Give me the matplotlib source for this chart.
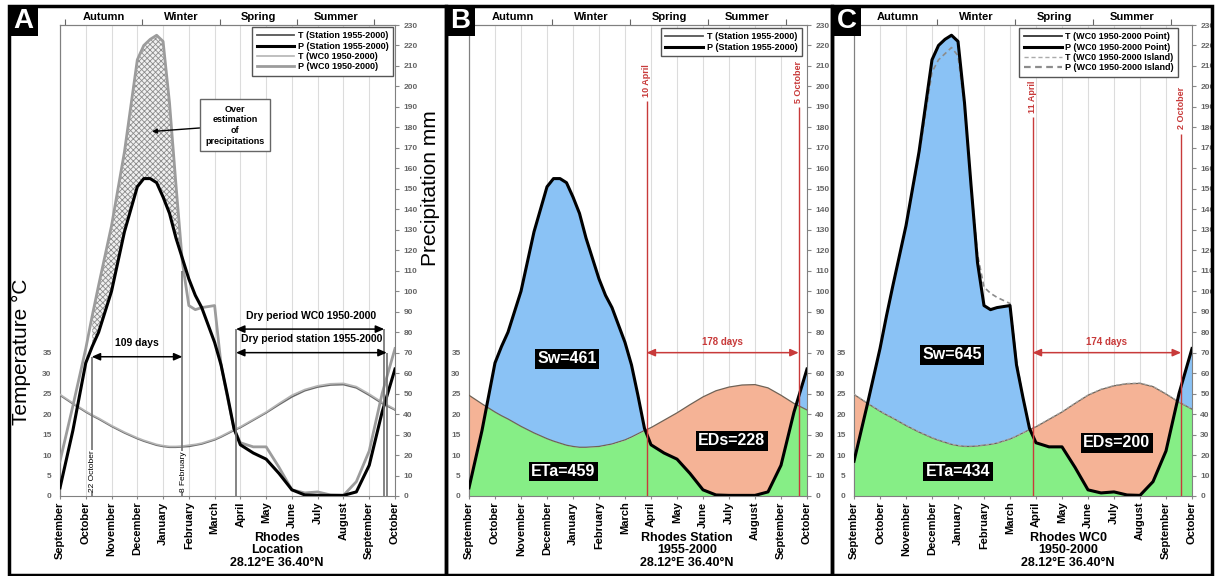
import numpy as np
import matplotlib
matplotlib.use('Agg')
import matplotlib.pyplot as plt
from matplotlib.lines import Line2D
from matplotlib.patches import Rectangle

plt.rcParams['font.family'] = ['Liberation Sans', 'DejaVu Sans']
plt.rcParams['hatch.linewidth'] = 0.6

W, H = 1215, 576

# ---------------- data (month position: 0 = September ... 13 = October) -------------
months = ['September', 'October', 'November', 'December', 'January', 'February',
          'March', 'April', 'May', 'June', 'July', 'August', 'September', 'October']
seasons = ['Autumn', 'Winter', 'Spring', 'Summer']
season_edges = [0.2, 3.2, 6.2, 9.2, 12.2]
season_mid = [1.7, 4.7, 7.7, 10.7]

mpos = np.array([0, 0.5, 1, 1.25, 1.5, 2, 2.5, 3, 3.25, 3.5, 3.75, 4, 4.25, 4.5, 4.75,
                 5, 5.25, 5.5, 6, 6.25, 6.5, 6.75, 7, 7.5, 8, 8.5, 9, 9.5, 10, 10.5,
                 11, 11.5, 12, 12.5, 13])

# temperature degC
t_station = [24.6, 22.5, 20.5, 19.6, 18.8, 17.0, 15.4, 14.0, 13.4, 12.9, 12.4, 12.1, 11.9,
             11.9, 12.0, 12.1, 12.4, 12.7, 13.7, 14.4, 15.2, 16.0, 16.7, 18.5, 20.3, 22.3,
             24.2, 25.7, 26.6, 27.1, 27.2, 26.4, 24.6, 22.6, 21.0]
t_wc0 = [24.8, 22.7, 20.7, 19.8, 19.0, 17.2, 15.6, 14.2, 13.6, 13.1, 12.6, 12.3, 12.1,
         12.1, 12.2, 12.4, 12.6, 12.9, 13.9, 14.6, 15.4, 16.2, 16.9, 18.7, 20.5, 22.6,
         24.6, 26.0, 26.9, 27.4, 27.5, 26.7, 24.9, 22.9, 21.2]
t_island = [24.9, 22.8, 20.8, 19.9, 19.1, 17.3, 15.7, 14.3, 13.7, 13.2, 12.7, 12.4, 12.2,
            12.2, 12.3, 12.5, 12.7, 13.0, 14.0, 14.7, 15.5, 16.3, 17.0, 18.8, 20.6, 22.7,
            24.7, 26.1, 27.0, 27.5, 27.6, 26.8, 25.0, 23.0, 21.3]

# precipitation mm
p_station = [4, 32, 65, 73, 80, 100, 129, 151, 155, 155, 153, 146, 138, 126, 116,
             106, 98, 92, 75, 64, 49, 33, 25, 21, 18, 11, 3, 0.5, 0.3, 0.3,
             0.3, 2, 15, 41, 62]
p_wc0 = [17, 44, 72, 88, 103, 132, 168, 213, 220, 223, 225, 222, 192, 152, 114,
         93, 91, 92, 93, 64, 48, 33, 26, 24, 24, 14, 3, 1.5, 2, 0.5,
         0.3, 7, 22, 50, 72]
p_island = [17, 44, 72, 88, 103, 132, 166, 207, 213, 216, 219, 215, 190, 152, 118,
            102, 99, 97, 94, 66, 48, 33, 26, 24, 24, 14, 3, 1.5, 2, 0.5,
            0.3, 7, 22, 50, 72]

# key dates as month positions
d_22oct, d_8feb = 1.23, 4.75
d_10apr, d_5oct = 6.83, 12.68
d_11apr, d_2oct = 6.87, 12.58

GREEN = '#86ee86'
BLUE = '#8ac2f5'
ORANGE = '#f5b396'
RED = '#c83a3a'


def fx(x):
    return x / W


def fy(y):
    return 1 - y / H


fig = plt.figure(figsize=(W / 100, H / 100), dpi=100)


def base_axes(x0, x1):
    ax = fig.add_axes([fx(x0), fy(496), (x1 - x0) / W, (496 - 25) / H])
    ax.set_xlim(0, 13)
    ax.set_ylim(0, 230)
    ax.set_xticks(range(14), labels=months, rotation=90, fontweight='bold', fontsize=8)
    ax.tick_params(axis='x', length=2, pad=2, color='#888888')
    ax.yaxis.tick_right()
    ax.set_yticks(range(0, 231, 10))
    ax.tick_params(axis='y', length=3, pad=3, labelsize=6, labelcolor='#666666', color='#888888')
    for lab in ax.get_yticklabels():
        lab.set_fontweight('bold')
    ax.grid(axis='x', color='#dcdcdc', lw=0.8)
    ax.set_axisbelow(True)
    for s in ax.spines.values():
        s.set_color('#808080')
    sec = ax.secondary_yaxis('left', functions=(lambda p: p / 2, lambda t: t * 2))
    sec.set_yticks(range(0, 36, 5))
    sec.tick_params(length=0, pad=6, labelsize=6, labelcolor='#666666')
    for lab in sec.get_yticklabels():
        lab.set_fontweight('bold')
    sec.spines['left'].set_color('#808080')
    top = ax.secondary_xaxis('top')
    top.set_xticks(season_edges, labels=[''] * len(season_edges))
    top.set_xticks(season_mid, labels=seasons, minor=True, fontweight='bold', fontsize=8)
    top.tick_params(which='major', length=4, color='#666666')
    top.tick_params(which='minor', length=0, pad=2)
    top.spines['top'].set_color('#808080')
    return ax


def harrow(ax, x0, x1, y, color):
    ax.annotate('', xy=(x1, y), xytext=(x0, y),
                arrowprops=dict(arrowstyle='<|-|>,head_length=0.5,head_width=0.22',
                                color=color, lw=1.1, shrinkA=0, shrinkB=0,
                                mutation_scale=10), zorder=6)


def water_fills(ax, p, t2):
    # green under T, blue where P above T, orange where P below T (covers green above P)
    p = np.array(p)
    wet = p >= t2
    ax.fill_between(mpos, 0, t2, color=GREEN, lw=0, zorder=1)
    ax.fill_between(mpos, t2, p, where=wet, interpolate=True, color=BLUE, lw=0, zorder=1)
    ax.fill_between(mpos, p, t2, where=~wet, interpolate=True, color=ORANGE, lw=0, zorder=1)


def value_box(ax, x, y, s):
    ax.text(x, y, s, ha='center', va='center', color='white', fontsize=11.5,
            fontweight='bold', zorder=7,
            bbox=dict(boxstyle='square,pad=0.15', fc='black', ec='none'))


legend_kw = dict(loc='upper right', prop={'weight': 'bold', 'size': 6.5},
                 frameon=True, fancybox=False, edgecolor='#555555', framealpha=1,
                 handlelength=4.2, borderaxespad=0, labelspacing=0.15, borderpad=0.5,
                 handletextpad=0.4)

t2_station = np.array(t_station) * 2
t2_wc0 = np.array(t_wc0) * 2
t2_island = np.array(t_island) * 2
mask_over = (mpos >= 1.25) & (mpos <= d_8feb)

# ---------------- Panel A ----------------
axA = base_axes(60, 395)
axA.fill_between(mpos, p_station, p_wc0, where=mask_over, facecolor='#f0f0f0',
                 hatch='xxxxxx', edgecolor='#8c8c8c', lw=0, zorder=2)
axA.plot(mpos, t2_station, color='#6a6a6a', lw=1.2, zorder=3)
axA.plot(mpos, t2_wc0, color='#b4b4b4', lw=1.2, zorder=3)
axA.plot(mpos, p_wc0, color='#9c9c9c', lw=2, zorder=3)
axA.plot(mpos, p_station, color='black', lw=2.2, zorder=4)

axA.vlines([d_22oct], 0, 68, color='#707070', lw=1.2, zorder=5)
axA.vlines([d_8feb], 0, 110, color='#707070', lw=1.2, zorder=5)
axA.vlines([d_10apr], 0, 81.5, color='#707070', lw=1.2, zorder=5)
axA.vlines([d_2oct], 0, 81.5, color='#707070', lw=1.2, zorder=5)
axA.vlines([d_5oct], 0, 70, color='#707070', lw=1.2, zorder=5)
harrow(axA, d_22oct, d_8feb, 68, 'black')
harrow(axA, d_10apr, d_2oct, 81.5, 'black')
harrow(axA, d_10apr, d_5oct, 70, 'black')
axA.text((d_22oct + d_8feb) / 2, 72.5, '109 days', ha='center', va='bottom',
         fontsize=7.5, fontweight='bold', zorder=6)
axA.text(9.75, 85.5, 'Dry period WC0 1950-2000', ha='center', va='bottom',
         fontsize=7.5, fontweight='bold', zorder=6)
axA.text(9.75, 74, 'Dry period station 1955-2000', ha='center', va='bottom',
         fontsize=7.5, fontweight='bold', zorder=6)
for d, s in [(d_22oct, '22 October'), (d_8feb, '8 February')]:
    axA.text(d + 0.05, 2, s, rotation=90, ha='center', va='bottom', fontsize=6,
             zorder=6, bbox=dict(boxstyle='square,pad=0.05', fc='white', ec='none'))
axA.annotate('Over\nestimation\nof\nprecipitations', xy=(3.57, 178), xytext=(6.8, 181),
             ha='center', va='center', fontsize=6.5, fontweight='bold', zorder=7,
             linespacing=1.25,
             bbox=dict(boxstyle='square,pad=0.6', fc='white', ec='#666666', lw=1),
             arrowprops=dict(arrowstyle='-|>', color='black', lw=1, mutation_scale=7,
                             shrinkA=0, shrinkB=0))
hA = [Line2D([], [], color='#555555', lw=1.3), Line2D([], [], color='black', lw=2.2),
      Line2D([], [], color='#b4b4b4', lw=1.2), Line2D([], [], color='#9c9c9c', lw=2)]
axA.legend(hA, ['T (Station 1955-2000)', 'P (Station 1955-2000)',
                'T (WC0 1950-2000)', 'P (WC0 1950-2000)'],
           bbox_to_anchor=(0.995, 0.996), **legend_kw).set_zorder(8)

# ---------------- Panel B ----------------
axB = base_axes(469, 807)
water_fills(axB, p_station, t2_station)
axB.plot(mpos, t2_station, color='#6f6256', lw=0.9, zorder=3)
axB.plot(mpos, p_station, color='black', lw=2.2, zorder=4)
axB.vlines([d_10apr], 0, 193, color=RED, lw=1, zorder=5)
axB.vlines([d_5oct], 0, 190, color=RED, lw=1, zorder=5)
axB.text(d_10apr, 195, '10 April', rotation=90, ha='center', va='bottom',
         color=RED, fontsize=6.5, fontweight='bold')
axB.text(d_5oct, 192, '5 October', rotation=90, ha='center', va='bottom',
         color=RED, fontsize=6.5, fontweight='bold')
harrow(axB, d_10apr, d_5oct, 70, RED)
axB.text((d_10apr + d_5oct) / 2, 73, '178 days', ha='center', va='bottom',
         color=RED, fontsize=7, fontweight='bold')
value_box(axB, 3.77, 67, 'Sw=461')
value_box(axB, 3.62, 12, 'ETa=459')
value_box(axB, 10.1, 27, 'EDs=228')
hB = [Line2D([], [], color='#555555', lw=1.3), Line2D([], [], color='black', lw=2.2)]
axB.legend(hB, ['T (Station 1955-2000)', 'P (Station 1955-2000)'],
           bbox_to_anchor=(0.985, 0.994), **legend_kw).set_zorder(8)

# ---------------- Panel C ----------------
axC = base_axes(854, 1192)
water_fills(axC, p_wc0, t2_wc0)
axC.plot(mpos, t2_wc0, color='#6f6256', lw=0.9, zorder=3)
axC.plot(mpos, t2_island, color='#aaaaaa', lw=0.8, ls=(0, (3, 2)), zorder=3)
axC.plot(mpos, p_island, color='#8c8c8c', lw=1.2, ls=(0, (3, 2)), zorder=3)
axC.plot(mpos, p_wc0, color='black', lw=2.2, zorder=4)
axC.vlines([d_11apr], 0, 185, color=RED, lw=1, zorder=5)
axC.vlines([d_2oct], 0, 177, color=RED, lw=1, zorder=5)
axC.text(d_11apr, 187, '11 April', rotation=90, ha='center', va='bottom',
         color=RED, fontsize=6.5, fontweight='bold')
axC.text(d_2oct, 179, '2 October', rotation=90, ha='center', va='bottom',
         color=RED, fontsize=6.5, fontweight='bold')
harrow(axC, d_11apr, d_2oct, 70, RED)
axC.text((d_11apr + d_2oct) / 2, 73, '174 days', ha='center', va='bottom',
         color=RED, fontsize=7, fontweight='bold')
value_box(axC, 3.77, 69, 'Sw=645')
value_box(axC, 4.0, 12, 'ETa=434')
value_box(axC, 10.1, 26, 'EDs=200')
hC = [Line2D([], [], color='#333333', lw=1.3), Line2D([], [], color='black', lw=2.2),
      Line2D([], [], color='#aaaaaa', lw=1, ls=(0, (3, 2))),
      Line2D([], [], color='#8c8c8c', lw=1.6, ls=(0, (3, 2)))]
axC.legend(hC, ['T (WC0 1950-2000 Point)', 'P (WC0 1950-2000 Point)',
                'T (WC0 1950-2000 Island)', 'P (WC0 1950-2000 Island)'],
           bbox_to_anchor=(0.96, 0.994), **legend_kw).set_zorder(8)

# ---------------- figure-level texts and frames ----------------
fig.text(fx(21), fy(352), 'Temperature °C', rotation=90, ha='center', va='center', fontsize=15)
fig.text(fx(431), fy(188), 'Precipitation mm', rotation=90, ha='center', va='center', fontsize=15)

for cx, s in [(277, 'Rhodes\nLocation\n28.12°E 36.40°N'),
              (687, 'Rhodes Station\n1955-2000\n28.12°E 36.40°N'),
              (1068, 'Rhodes WC0\n1950-2000\n28.12°E 36.40°N')]:
    fig.text(fx(cx), fy(532), s, ha='center', va='top', fontsize=9, fontweight='bold',
             linespacing=1.05)

for x0, x1, letter in [(9, 446, 'A'), (446, 832, 'B'), (832, 1212, 'C')]:
    fig.add_artist(Rectangle((fx(x0), fy(575)), (x1 - x0) / W, (575 - 6) / H,
                             transform=fig.transFigure, fill=False, ec='black', lw=2.5))
    fig.add_artist(Rectangle((fx(x0), fy(36)), 29 / W, 30 / H, transform=fig.transFigure,
                             fc='black', ec='black', lw=0))
    fig.text(fx(x0 + 14.5), fy(21.5), letter, ha='center', va='center', color='white',
             fontsize=20, fontweight='bold')

fig.savefig('out.png', dpi=100, facecolor='white')
